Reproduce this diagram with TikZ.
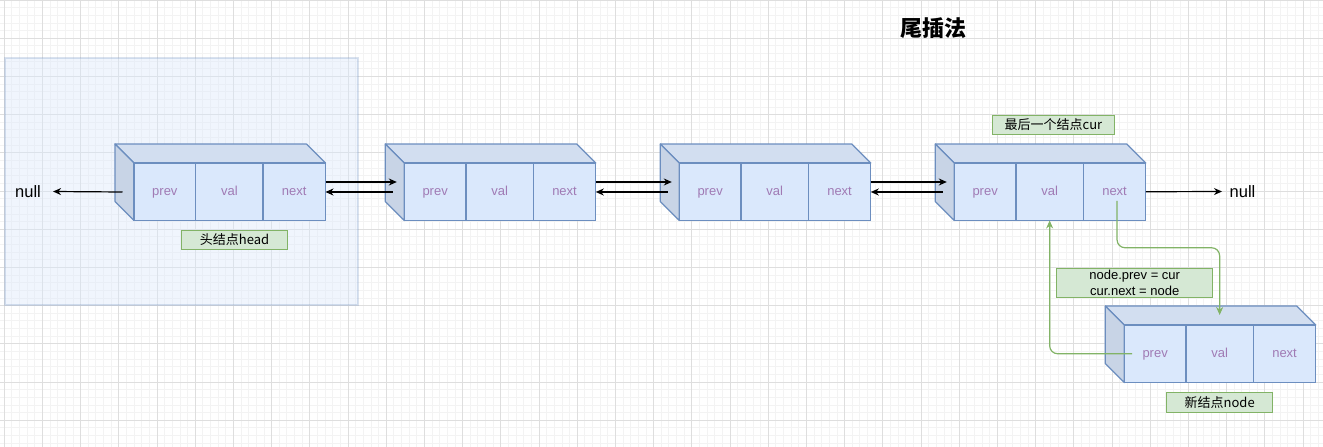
\documentclass[tikz,border=0pt]{standalone}
\usepackage{fontspec}
\setmainfont{Liberation Sans}
\newfontfamily\cjk{Noto Sans CJK SC}
\usetikzlibrary{arrows.meta}

\definecolor{cellfill}{HTML}{DAE8FC}
\definecolor{cellline}{HTML}{6C8EBF}
\definecolor{topfill}{HTML}{D2DEF0}
\definecolor{leftfill}{HTML}{C8D4E6}
\definecolor{txtpurple}{HTML}{A07AB4}
\definecolor{gfill}{HTML}{D5E8D4}
\definecolor{gline}{HTML}{82B366}
\definecolor{majgrid}{HTML}{DEDEDE}
\definecolor{mingrid}{HTML}{F3F3F3}

\tikzset{
  cell/.style={draw=cellline, fill=cellfill, line width=1.2pt, minimum height=57.5pt,
    inner sep=0pt, outer sep=0pt, text=txtpurple, font=\fontsize{13}{15}\selectfont,
    text height=9.5pt, text depth=2.7pt, anchor=north west},
  topface/.style={draw=cellline, fill=topfill, line width=1.2pt, line join=round},
  leftface/.style={draw=cellline, fill=leftfill, line width=1.2pt, line join=round},
  arr/.style={draw=black, line width=1.2pt, -{Stealth[length=8pt,width=7pt]}},
  garr/.style={draw=gline, line width=1.2pt, rounded corners=8pt, -{Stealth[length=8pt,width=7pt]}},
  glabel/.style={draw=gline, fill=gfill, line width=1pt, inner sep=0pt, outer sep=0pt,
    font=\fontsize{13}{16.5}\selectfont, align=center},
  nulltxt/.style={font=\fontsize{16.5}{19}\selectfont, inner sep=0pt},
  mingridline/.style={draw=mingrid, line width=1pt},
  majgridline/.style={draw=majgrid, line width=1pt},
}

\newcommand\llcube[3]{%
  \pgfmathsetmacro\cbx{#2}\pgfmathsetmacro\cby{#3}%
  \filldraw[topface] (\cbx,\cby) -- ++(191.5,0) -- ++(19,19) -- ++(-191.5,0) -- cycle;
  \filldraw[leftface] (\cbx,\cby) -- ++(19,19) -- ++(0,57.5) -- ++(-19,-19) -- cycle;
  \node[cell, minimum width=61.7pt] (#1p) at (\cbx+19,\cby+19) {prev};
  \node[cell, minimum width=67.3pt] (#1v) at (#1p.north east) {val};
  \node[cell, minimum width=62.5pt] (#1n) at (#1v.north east) {next};
  \coordinate (#1a) at (\cbx+11.5,\cby+38);
  \coordinate (#1b) at (\cbx+7.5,\cby+48);
}

\begin{document}
\begin{tikzpicture}[x=1pt,y=-1pt]
\useasboundingbox (0,0) rectangle (1323,447);
\fill[white] (0,0) rectangle (1323,447);
% grid
\foreach \i in {-1,...,173} \draw[mingridline] ({4.3+7.64*\i},0) -- ({4.3+7.64*\i},447);
\foreach \i in {-6,...,53} \draw[mingridline] (0,{38.3+7.64*\i}) -- (1323,{38.3+7.64*\i});
\foreach \i in {0,...,34} \draw[majgridline] ({4.3+38.2*\i},0) -- ({4.3+38.2*\i},447);
\foreach \i in {-1,...,10} \draw[majgridline] (0,{38.3+38.2*\i}) -- (1323,{38.3+38.2*\i});

% region around head node
\node[draw=cellline, draw opacity=0.25, fill=cellfill, fill opacity=0.4, line width=1.2pt,
  minimum width=353pt, minimum height=247pt, inner sep=0pt, outer sep=0pt, anchor=north west] (region) at (5,58) {};

% title
\node (title) at (933,28) {\cjk\bfseries\fontsize{22}{26}\selectfont 尾插法};

% nodes
\llcube{n1}{115}{144}
\llcube{n2}{385.3}{144}
\llcube{n3}{660.3}{144}
\llcube{n4}{935.3}{144}
\llcube{n5}{1105.3}{306}

% null texts
\node[nulltxt] (nullL) at (28,191.5) {null};
\node[nulltxt, anchor=west] (nullR) at (1229.5,191.5) {null};

% black arrows
\draw[arr] (n1b) -- ([xshift=12pt]nullL.east);
\draw[arr] (n1n.east |- n2a) -- (n2a);
\draw[arr] (n2b) -- (n2b -| n1n.east);
\draw[arr] (n2n.east |- n3a) -- (n3a);
\draw[arr] (n3b) -- (n3b -| n2n.east);
\draw[arr] (n3n.east |- n4a) -- (n4a);
\draw[arr] (n4b) -- (n4b -| n3n.east);
\draw[arr] (n4n.east) -- ([xshift=-7.5pt]nullR.west);

% green arrows
\draw[garr] ([xshift=2.5pt,yshift=-9pt]n4n.center) -- ++(0,47) -| ([yshift=10pt]n5v.north);
\draw[garr] ([xshift=-23pt]n5p.center) -| (n4v.south);

% green labels
\node[glabel, minimum width=105.6pt, minimum height=19.3pt] (headlbl) at (234.5,239.7) {\cjk 头结点head};
\node[glabel, minimum width=121.6pt, minimum height=19.3pt] (curlbl) at (1053.5,124.7) {\cjk 最后一个结点cur};
\node[glabel, minimum width=156pt, minimum height=29.3pt] (oplbl) at (1134.7,282.7) {node.prev = cur\\cur.next = node};
\node[glabel, minimum width=106pt, minimum height=20.4pt] (newlbl) at (1219.7,402.5) {\cjk 新结点node};
\end{tikzpicture}
\end{document}
